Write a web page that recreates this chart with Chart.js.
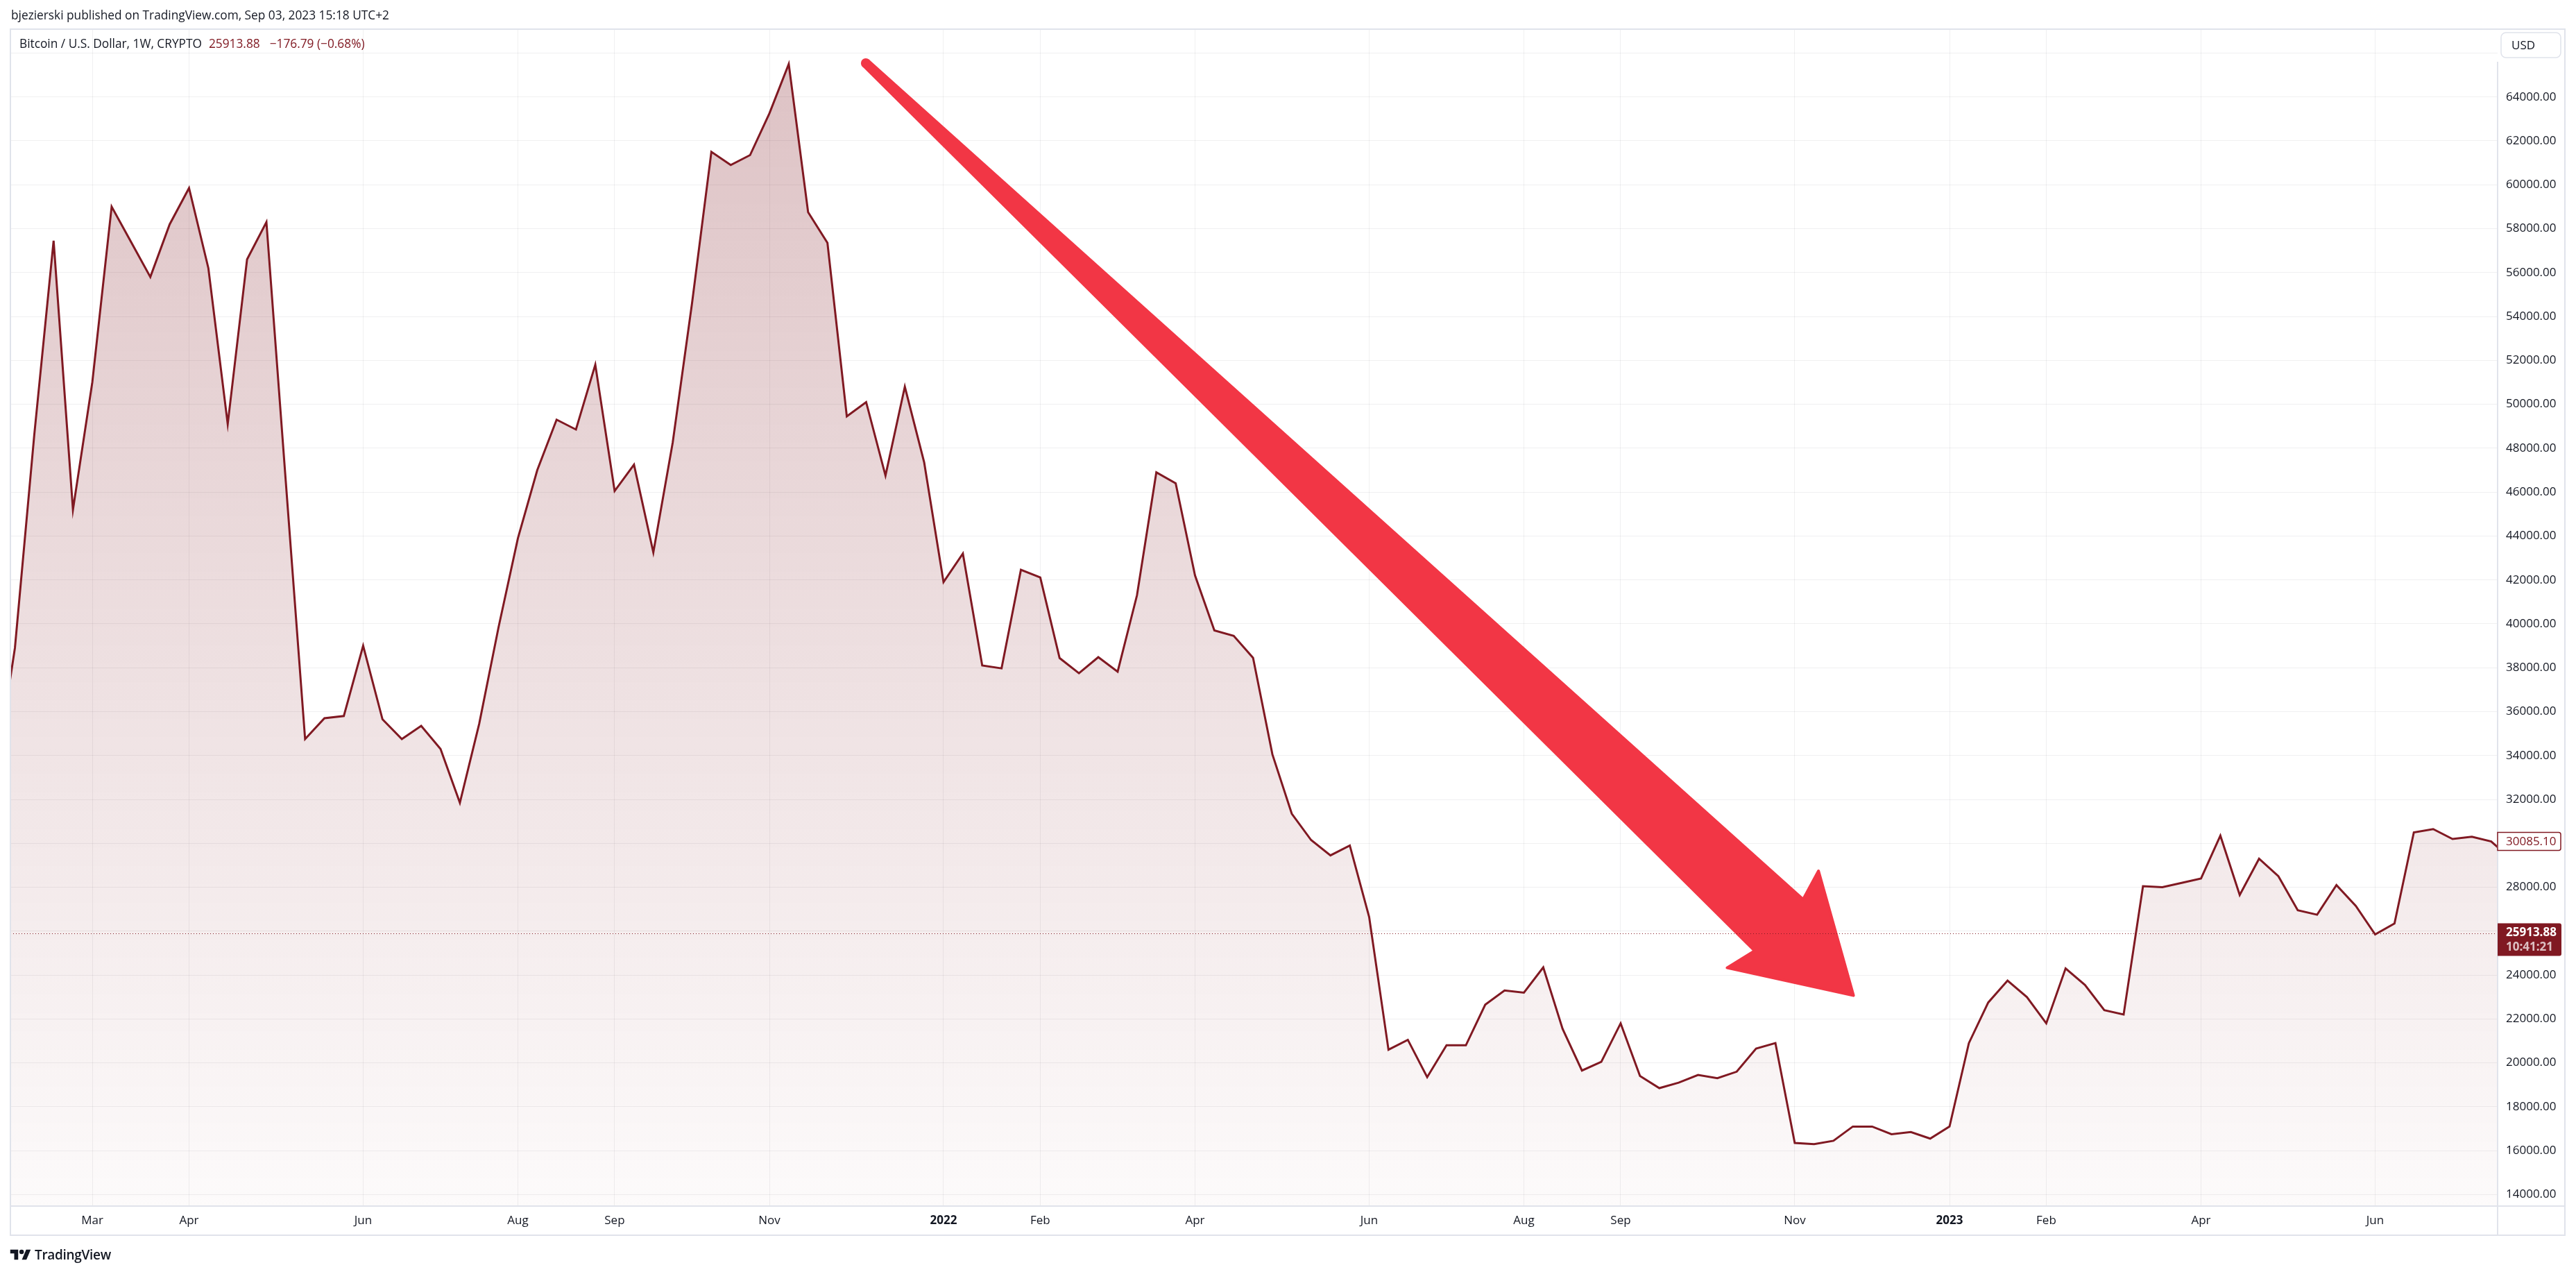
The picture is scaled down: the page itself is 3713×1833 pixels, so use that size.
<!DOCTYPE html>
<html>
<head>
<meta charset="utf-8">
<script src="https://cdn.jsdelivr.net/npm/chart.js@4.4.0/dist/chart.umd.min.js"></script>
<style>
  html, body { margin: 0; padding: 0; background: #fff; width: 3713px; height: 1833px; overflow: hidden; }
  body { font-family: "Open Sans", sans-serif; color: #131722; position: relative; }
  #chart { position: absolute; left: 0; top: 0; }
  #hdr { position: absolute; left: 16px; top: 9px; font-size: 17.3px; line-height: 26px; white-space: pre; }
  #legend { position: absolute; left: 28px; top: 50px; font-size: 17.3px; line-height: 26px; white-space: pre; }
  #legend .v { color: #801922; margin-left: 10px; }
  #logo { position: absolute; left: 14px; top: 1796px; height: 24px; display: flex; align-items: center; font-size: 19px; font-weight: 600; letter-spacing: -0.3px; }
  #logo svg { margin-right: 5px; }
</style>
</head>
<body>
<canvas id="chart" width="3713" height="1833"></canvas>
<div id="hdr"></div>
<div id="legend"></div>
<div id="logo"><svg width="31" height="18" viewBox="0 0 36 22"><path d="M14 20H7V9H0V2h14z" fill="#131722"/><circle cx="20" cy="6" r="4" fill="#131722"/><path d="M28 2h8l-7.5 18h-8z" fill="#131722"/></svg>TradingView</div>
<script>
// weekly closes, BTC/USD, first bar = week of 2021-01-25
const startWeek = '2021-01-25';
const closes = [
  33100, 38900, 48600, 57450, 45200, 51000, 59000, 57400, 55800, 58200,
  59850, 56200, 49100, 56600, 58300, 46500, 34750, 35700, 35800, 39000,
  35650, 34750, 35350, 34300, 31850, 35450, 39850, 43900, 47000, 49300,
  48850, 51800, 46050, 47250, 43250, 48250, 54600, 61500, 60900, 61350,
  63250, 65500, 58750, 57350, 49450, 50100, 46750, 50800, 47350, 41900,
  43200, 38100, 37970, 42460, 42110, 38440, 37750, 38480, 37820, 41300,
  46900, 46400, 42200, 39700, 39450, 38450, 34050, 31350, 30150, 29450,
  29900, 26650, 20600, 21050, 19350, 20800, 20800, 22650, 23300, 23200,
  24350, 21550, 19650, 20050, 21800, 19400, 18850, 19100, 19450, 19300,
  19600, 20650, 20900, 16350, 16300, 16450, 17100, 17100, 16750, 16850,
  16550, 17100, 20900, 22750, 23750, 23000, 21800, 24300, 23550, 22400,
  22200, 28050, 28000, 28200, 28400, 30350, 27650, 29300, 28500, 26950,
  26750, 28100, 27150, 25850, 26350, 30500, 30650, 30200, 30300, 30085.10,
  29300
];

// x axis: week index of each month / year label
const tickWeeks = [5, 10, 19, 27, 32, 40, 49, 54, 62, 71, 79, 84, 93, 101, 106, 114, 123];
const tickLabels = ['Mar', 'Apr', 'Jun', 'Aug', 'Sep', 'Nov', '2022', 'Feb', 'Apr', 'Jun', 'Aug', 'Sep', 'Nov', '2023', 'Feb', 'Apr', 'Jun'];
const yTicks = [14000, 16000, 18000, 20000, 22000, 24000, 26000, 28000, 30000, 32000, 34000, 36000, 38000, 40000,
  42000, 44000, 46000, 48000, 50000, 52000, 54000, 56000, 58000, 60000, 62000, 64000, 66000];
const yLabelMax = 64000;

// visible window
const viewWeeks = [0.767, 129.33];
const viewPrice = [13477, 67088];

const symbolName = 'Bitcoin / U.S. Dollar, 1W, CRYPTO';
const lastPrice = 25913.88;
const priceChange = -176.79;
const priceChangePct = -0.68;
const countdown = '10:41:21';

// drawn arrow (week index, price)
const arrowFrom = [44.98, 65540];
const arrowTo = [96.09, 23023];

const lineColor = '#801922';
const gridColor = 'rgba(42,46,57,0.07)';
const frameColor = '#e0e3eb';
const font = '"Open Sans", sans-serif';

document.getElementById('hdr').textContent = 'bjezierski published on TradingView.com, Sep 03, 2023 15:18 UTC+2';
const minus = n => (n < 0 ? '\u2212' : '+') + Math.abs(n).toFixed(2);
document.getElementById('legend').innerHTML = symbolName +
  '<span class="v">' + lastPrice.toFixed(2) + '</span>' +
  '<span class="v" style="margin-left:14px">' + minus(priceChange) + ' (' + minus(priceChangePct) + '%)</span>';

// last close inside the visible window
let lastVisible = closes[0];
closes.forEach((v, i) => { if (i <= viewWeeks[1]) lastVisible = v; });
const badgeValues = [lastVisible, lastPrice];

function drawArrow(ctx, x0, y0, x1, y1) {
  const dx = x1 - x0, dy = y1 - y0, len = Math.hypot(dx, dy);
  const ux = dx / len, uy = dy / len, px = -uy, py = ux;
  const P = (along, side) => [x0 + ux * along + px * side, y0 + uy * along + py * side];
  const pts = [P(0, -5), P(len - 150, -51), P(len - 162, -96), P(len - 2, 0),
               P(len - 162, 96), P(len - 150, 51), P(0, 5)];
  ctx.save();
  ctx.fillStyle = '#F23645';
  ctx.strokeStyle = '#F23645';
  ctx.lineWidth = 4;
  ctx.lineJoin = 'round';
  ctx.beginPath();
  pts.forEach((p, i) => i ? ctx.lineTo(p[0], p[1]) : ctx.moveTo(p[0], p[1]));
  ctx.closePath();
  ctx.fill();
  ctx.stroke();
  ctx.beginPath();
  ctx.arc(x0, y0, 7, 0, Math.PI * 2);
  ctx.fill();
  ctx.restore();
}

const overlay = {
  id: 'overlay',
  afterDatasetsDraw(chart) {
    const { ctx, chartArea: a, scales: { x, y } } = chart;
    ctx.save();
    ctx.beginPath();
    ctx.rect(a.left, a.top, a.right - a.left, a.bottom - a.top);
    ctx.clip();
    drawArrow(ctx, x.getPixelForValue(arrowFrom[0]), y.getPixelForValue(arrowFrom[1]),
      x.getPixelForValue(arrowTo[0]), y.getPixelForValue(arrowTo[1]));
    const py = Math.round(y.getPixelForValue(lastPrice)) + 0.5;
    ctx.strokeStyle = lineColor;
    ctx.lineWidth = 1;
    ctx.setLineDash([1, 3]);
    ctx.beginPath();
    ctx.moveTo(a.left, py);
    ctx.lineTo(a.right, py);
    ctx.stroke();
    ctx.restore();
  },
  afterDraw(chart) {
    const { ctx, chartArea: a, scales: { y } } = chart;
    const R = 3697, B = 1780;
    ctx.save();
    // frame
    ctx.strokeStyle = frameColor;
    ctx.lineWidth = 2;
    ctx.strokeRect(a.left, a.top, R - a.left, B - a.top);
    ctx.beginPath();
    ctx.moveTo(a.left, a.bottom); ctx.lineTo(R, a.bottom);
    ctx.moveTo(a.right, 89); ctx.lineTo(a.right, B);
    ctx.stroke();
    // currency box
    ctx.lineWidth = 1.5;
    ctx.beginPath();
    ctx.roundRect(a.right + 5, 47, 86, 36, 7);
    ctx.stroke();
    ctx.fillStyle = '#131722';
    ctx.font = '17px ' + font;
    ctx.textBaseline = 'middle';
    ctx.fillText('USD', a.right + 20, 66);
    // last visible value badge
    let py = y.getPixelForValue(badgeValues[0]);
    ctx.fillStyle = '#fff';
    ctx.strokeStyle = lineColor;
    ctx.lineWidth = 1.5;
    ctx.beginPath();
    ctx.roundRect(a.right, py - 13, 91, 26, [0, 3, 3, 0]);
    ctx.fill();
    ctx.stroke();
    ctx.fillStyle = lineColor;
    ctx.fillText(badgeValues[0].toFixed(2), a.right + 12, py + 1);
    // last price badge
    py = y.getPixelForValue(badgeValues[1]);
    ctx.fillStyle = lineColor;
    ctx.beginPath();
    ctx.roundRect(a.right, py - 14, 92, 47, [0, 3, 3, 0]);
    ctx.fill();
    ctx.font = 'bold 17px ' + font;
    ctx.fillStyle = '#fff';
    ctx.fillText(badgeValues[1].toFixed(2), a.right + 12, py);
    ctx.fillStyle = 'rgba(255,255,255,0.72)';
    ctx.fillText(countdown, a.right + 12, py + 21);
    ctx.restore();
  }
};

Chart.defaults.font.family = font;

const ctx = document.getElementById('chart').getContext('2d');
new Chart(ctx, {
  type: 'line',
  data: {
    datasets: [{
      data: closes.map((v, i) => ({ x: i, y: v })),
      borderColor: lineColor,
      borderWidth: 3,
      pointRadius: 0,
      tension: 0,
      clip: 0,
      fill: 'start',
      backgroundColor: c => {
        const { ctx, chartArea } = c.chart;
        if (!chartArea) return 'rgba(128,25,34,0.1)';
        const g = ctx.createLinearGradient(0, chartArea.top, 0, chartArea.bottom);
        g.addColorStop(0, 'rgba(128,25,34,0.27)');
        g.addColorStop(1, 'rgba(128,25,34,0.02)');
        return g;
      }
    }]
  },
  options: {
    responsive: false,
    animation: false,
    devicePixelRatio: 1,
    events: [],
    layout: { padding: { left: 15, top: 42, right: 16, bottom: 53 } },
    plugins: { legend: { display: false }, tooltip: { enabled: false } },
    scales: {
      x: {
        type: 'linear',
        min: viewWeeks[0],
        max: viewWeeks[1],
        afterBuildTicks: s => { s.ticks = tickWeeks.map(v => ({ value: v })); },
        afterFit: s => { s.height = 42; },
        grid: { color: gridColor, drawTicks: false },
        border: { display: false },
        ticks: {
          autoSkip: false,
          maxRotation: 0,
          padding: 11,
          color: '#131722',
          font: c => ({ size: 17, weight: /^\d{4}$/.test(tickLabels[c.index]) ? 'bold' : 'normal' }),
          callback: (v, i) => tickLabels[i]
        }
      },
      y: {
        position: 'right',
        min: viewPrice[0],
        max: viewPrice[1],
        afterBuildTicks: s => { s.ticks = yTicks.map(v => ({ value: v })); },
        afterFit: s => { s.width = 97; },
        grid: { color: gridColor, drawTicks: false },
        border: { display: false },
        ticks: {
          padding: 12,
          color: '#131722',
          font: { size: 17 },
          callback: v => (v > yLabelMax || badgeValues.some(b => Math.abs(b - v) < 1200)) ? '' : v.toFixed(2)
        }
      }
    }
  },
  plugins: [overlay]
});
</script>
</body>
</html>
